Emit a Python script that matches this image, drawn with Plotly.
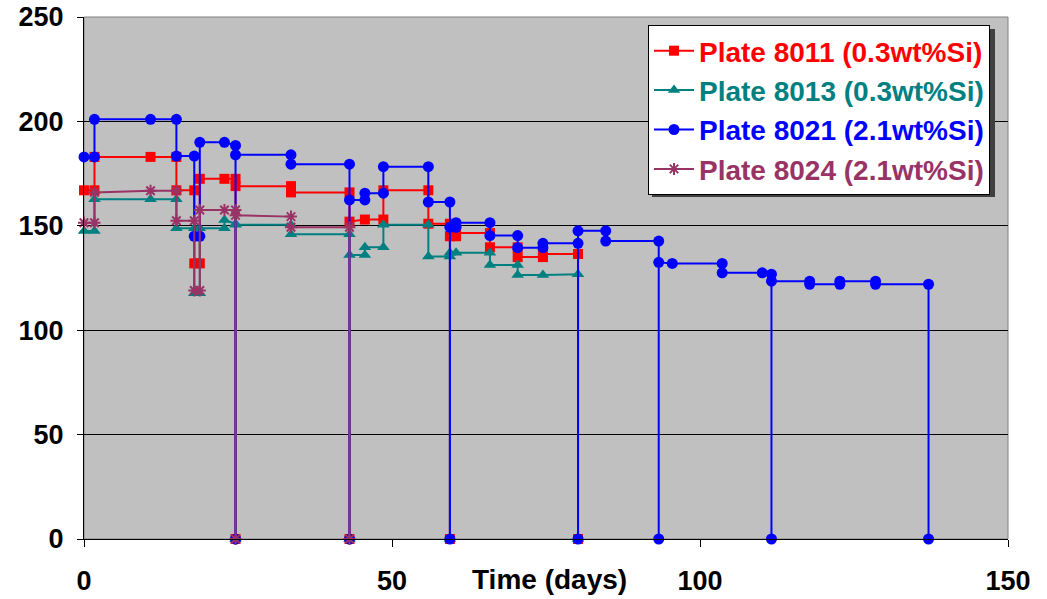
import plotly.graph_objects as go

# Plate 8011 (0.3 wt% Si)
days_8011 = [0, 1.7, 1.7, 10.8, 15.0, 15.0, 17.9, 17.9, 18.8, 18.8, 22.8, 24.6, 24.6, 24.6,
             33.6, 33.6, 43.1, 43.1, 43.1, 45.6, 48.6, 48.6, 55.9, 55.9, 59.4, 59.4, 59.4,
             60.4, 60.4, 65.9, 65.9, 70.4, 70.4, 74.5, 74.5, 80.2, 80.2]
vals_8011 = [167, 167, 183, 183, 183, 167, 167, 132, 132, 172.5, 172.5, 172.5, 0, 169,
             169, 166, 166, 0, 152, 153, 153, 167, 167, 151, 151, 0, 145,
             145, 146.5, 146.5, 139.7, 139.7, 135, 135, 136.5, 136.5, 0]

# Plate 8013 (0.3 wt% Si)
days_8013 = [0, 1.7, 1.7, 10.8, 15.0, 15.0, 17.9, 17.9, 18.8, 18.8, 22.8, 22.8, 24.6, 24.6, 24.6,
             33.6, 33.6, 43.1, 43.1, 43.1, 45.6, 45.6, 48.6, 48.6, 55.9, 55.9, 59.4, 59.4, 59.4,
             60.4, 65.9, 65.9, 70.4, 70.4, 74.5, 80.2, 80.2]
vals_8013 = [147.5, 147.5, 162.7, 162.7, 162.7, 148.8, 148.8, 117.7, 117.7, 148.8, 148.8, 152.8, 151, 0, 150.5,
             150.5, 146, 146, 0, 136, 136, 139.7, 139.7, 150.5, 150.5, 135.3, 135.3, 0, 137.1,
             137.1, 137.1, 131.2, 131.2, 126.4, 126.4, 126.8, 0]

# Plate 8021 (2.1 wt% Si)
days_8021 = [0, 1.7, 1.7, 10.8, 15.0, 15.0, 17.9, 17.9, 18.8, 18.8, 22.8, 24.6, 24.6, 24.6,
             33.6, 33.6, 43.1, 43.1, 43.1, 45.6, 45.6, 48.6, 48.6, 55.9, 55.9, 59.4, 59.4, 59.4,
             60.4, 60.4, 65.9, 65.9, 70.4, 70.4, 74.5, 74.5, 80.2, 80.2, 80.2, 84.7, 84.7,
             93.3, 93.3, 93.3, 95.5, 103.6, 103.6, 110.1, 111.6, 111.6, 111.6,
             117.8, 117.8, 122.7, 122.7, 128.5, 128.5, 137.1, 137.1]
vals_8021 = [183, 183, 201, 201, 201, 183.4, 183.4, 145, 145, 190, 190, 188.5, 0, 184,
             184, 179.5, 179.5, 0, 162.4, 162.4, 165.6, 165.6, 178.3, 178.3, 161.4, 161.4, 0, 149.3,
             149.3, 151.5, 151.5, 145.3, 145.3, 139.5, 139.5, 141.6, 141.6, 0, 147.6, 147.6, 142.7,
             142.7, 0, 132.5, 132, 132, 127.5, 127.5, 126.8, 0, 123.5,
             123.5, 122, 122, 123.5, 123.5, 122, 122, 0]

# Plate 8024 (2.1 wt% Si)
days_8024 = [0, 1.7, 1.7, 10.8, 15.0, 15.0, 17.9, 17.9, 18.8, 18.8, 22.8, 24.6, 24.6, 24.6,
             33.6, 33.6, 43.1, 43.1]
vals_8024 = [151.5, 151.5, 166, 166.8, 166.8, 152.4, 152.4, 119, 119, 157.6, 157.6, 157.6, 0, 155,
             154.4, 149.3, 149.3, 0]

series = [
    ("Plate 8011 (0.3wt%Si)", days_8011, vals_8011, "#FF0000", "square", 10),
    ("Plate 8013 (0.3wt%Si)", days_8013, vals_8013, "#008080", "triangle-up", 11),
    ("Plate 8021 (2.1wt%Si)", days_8021, vals_8021, "#0000FF", "circle", 11),
    ("Plate 8024 (2.1wt%Si)", days_8024, vals_8024, "#993366", "asterisk-open", 10),
]

FONT = "Liberation Sans, Arial, sans-serif"

# plot-area pixel geometry (for the legend drop shadow)
PL, PR, PT, PB = 84, 1008, 17, 539


def px_x(v):
    return (v - PL) / (PR - PL)


def px_y(v):
    return (PB - v) / (PB - PT)


fig = go.Figure()
for label, xs, ys, color, symbol, size in series:
    fig.add_trace(go.Scatter(
        x=xs, y=ys, mode="lines+markers",
        name=f'<span style="color:{color}">{label}</span>',
        line=dict(color=color, width=2),
        marker=dict(symbol=symbol, size=size, color=color,
                    line=dict(color=color, width=2 if symbol == "asterisk-open" else 0)),
        cliponaxis=False,
        legendgroup=label,
    ))

fig.update_layout(
    width=1047, height=599, autosize=False,
    margin=dict(l=PL, r=1047 - PR, t=PT, b=599 - PB),
    paper_bgcolor="white",
    plot_bgcolor="#C0C0C0",
    font=dict(family=FONT, size=27, color="black", weight="bold"),
    showlegend=True,
    legend=dict(
        x=px_x(648), y=px_y(25), xanchor="left", yanchor="top",
        bgcolor="white", bordercolor="black", borderwidth=1,
        font=dict(family=FONT, size=28, weight="bold"),
        tracegroupgap=0, itemwidth=40,
    ),
    xaxis=dict(
        range=[0, 150], tickmode="linear", tick0=0, dtick=50,
        showgrid=False, zeroline=False, automargin=False,
        showline=True, linecolor="black", linewidth=1,
        ticks="outside", ticklen=7, tickcolor="black",
        ticklabelstandoff=11,
        tickfont=dict(family=FONT, size=27, weight="bold"),
    ),
    yaxis=dict(
        range=[0, 250], tickmode="linear", tick0=0, dtick=50,
        showgrid=True, gridcolor="black", gridwidth=1, zeroline=False, automargin=False,
        showline=True, linecolor="black", linewidth=1,
        ticks="outside", ticklen=6, tickcolor="black",
        ticklabelstandoff=8,
        tickfont=dict(family=FONT, size=27, weight="bold"),
    ),
    shapes=[
        dict(type="rect", xref="paper", yref="paper", x0=0, x1=1, y0=0, y1=1,
             line=dict(color="#808080", width=1), layer="below"),
        dict(type="rect", xref="paper", yref="paper",
             x0=px_x(652), x1=px_x(995), y0=px_y(197), y1=px_y(29),
             fillcolor="#404040", line=dict(width=0), layer="above"),
    ],
    annotations=[
        dict(text="Time (days)", xref="paper", yref="paper", x=0.504, y=-0.078,
             xanchor="center", yanchor="middle", showarrow=False,
             font=dict(family=FONT, size=28, weight="bold", color="black")),
    ],
)

fig.write_html("out.html")
